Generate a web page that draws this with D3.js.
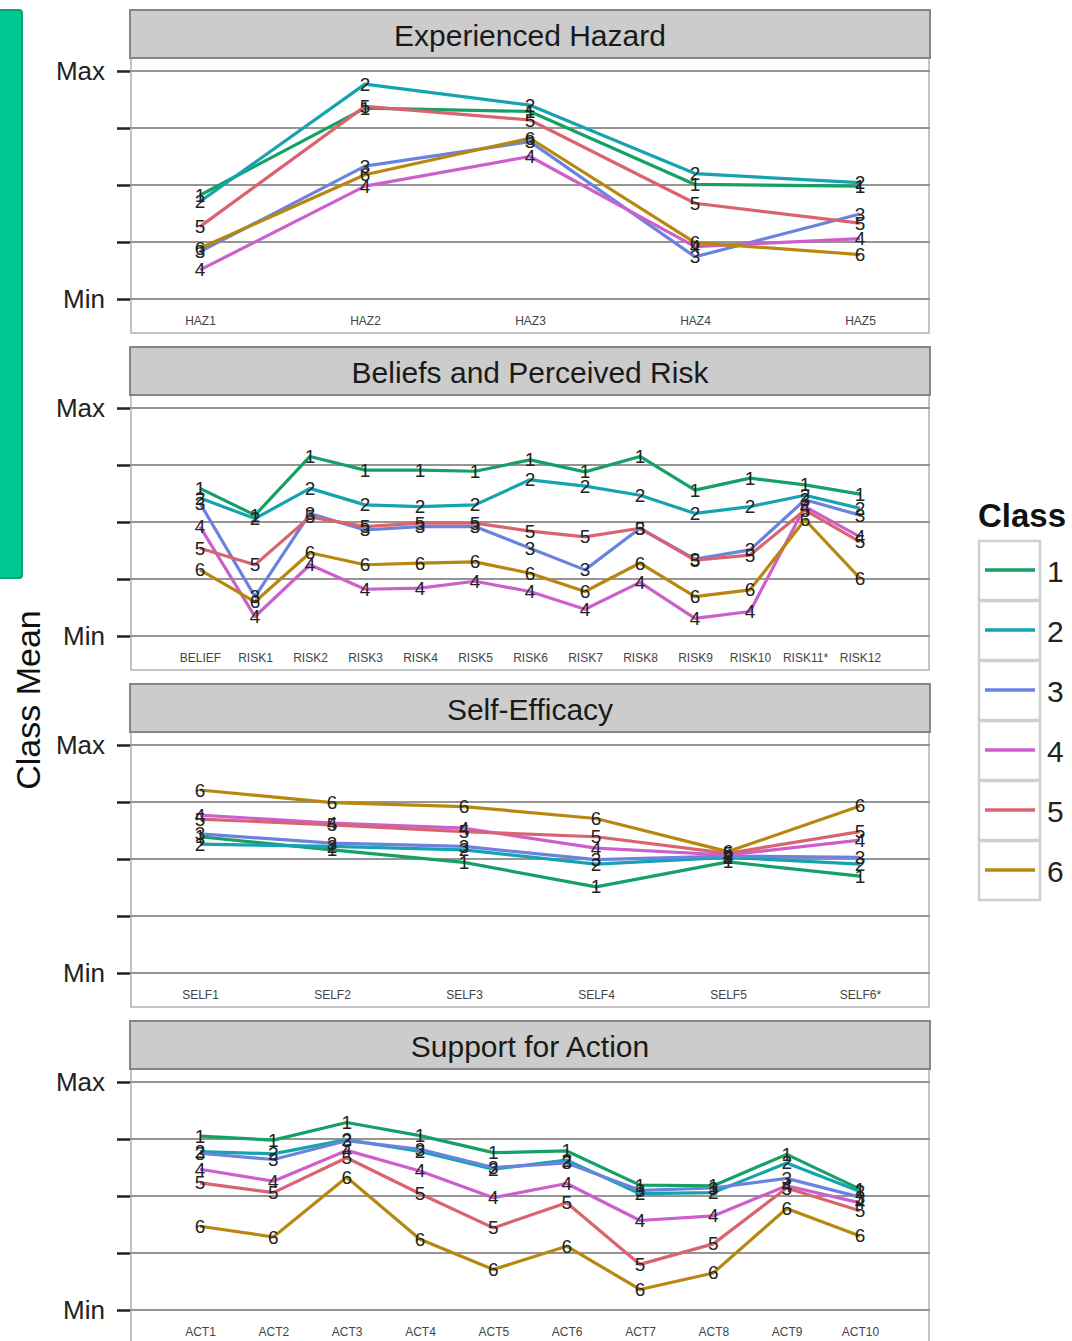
<!DOCTYPE html>
<html>
<head>
<meta charset="utf-8">
<script src="https://cdn.jsdelivr.net/npm/d3@7"></script>
<style>
  body { margin: 0; background: #fff; }
  svg { font-family: "Liberation Sans", Arial, sans-serif; display: block; }
</style>
</head>
<body>
<div id="dataviz"></div>
<script>
// classes and colours
const classes = ["1", "2", "3", "4", "5", "6"];
const classColors = ["#15a065", "#16a3b1", "#6a84de", "#cd5fcd", "#d9646f", "#b8870f"];

// y axis: 0 = Min, 4 = Max
const yTicks = [0, 1, 2, 3, 4];
const yTickLabels = ["Min", "", "", "", "Max"];

// panel 1
const hazItems = ["HAZ1", "HAZ2", "HAZ3", "HAZ4", "HAZ5"];
const hazMeans = [
  [1.82, 3.35, 3.29, 2.01, 1.98],
  [1.71, 3.77, 3.40, 2.20, 2.04],
  [0.83, 2.33, 2.76, 0.74, 1.49],
  [0.51, 1.98, 2.50, 0.92, 1.06],
  [1.27, 3.38, 3.14, 1.68, 1.33],
  [0.89, 2.18, 2.82, 0.99, 0.78],
];

// panel 2
const riskItems = ["BELIEF", "RISK1", "RISK2", "RISK3", "RISK4", "RISK5", "RISK6",
  "RISK7", "RISK8", "RISK9", "RISK10", "RISK11*", "RISK12"];
const riskMeans = [
  [2.59, 2.12, 3.15, 2.91, 2.91, 2.89, 3.09, 2.88, 3.15, 2.56, 2.77, 2.65, 2.49],
  [2.42, 2.06, 2.59, 2.30, 2.27, 2.30, 2.74, 2.63, 2.47, 2.15, 2.27, 2.47, 2.24],
  [2.33, 0.69, 2.15, 1.86, 1.92, 1.92, 1.54, 1.16, 1.89, 1.35, 1.51, 2.39, 2.12],
  [1.92, 0.34, 1.25, 0.82, 0.84, 0.96, 0.78, 0.47, 0.94, 0.31, 0.43, 2.27, 1.74],
  [1.54, 1.25, 2.09, 1.92, 1.98, 1.98, 1.84, 1.74, 1.89, 1.33, 1.42, 2.21, 1.65],
  [1.16, 0.60, 1.46, 1.25, 1.28, 1.30, 1.10, 0.78, 1.28, 0.69, 0.81, 2.04, 1.01],
];

// panel 3
const selfItems = ["SELF1", "SELF2", "SELF3", "SELF4", "SELF5", "SELF6*"];
const selfMeans = [
  [2.39, 2.16, 1.94, 1.51, 1.95, 1.70],
  [2.26, 2.22, 2.16, 1.91, 2.03, 1.91],
  [2.44, 2.28, 2.22, 1.99, 2.05, 2.03],
  [2.77, 2.63, 2.54, 2.19, 2.07, 2.33],
  [2.70, 2.60, 2.48, 2.39, 2.10, 2.48],
  [3.21, 2.99, 2.92, 2.71, 2.13, 2.93],
];

// panel 4
const actItems = ["ACT1", "ACT2", "ACT3", "ACT4", "ACT5", "ACT6", "ACT7", "ACT8", "ACT9", "ACT10"];
const actMeans = [
  [3.05, 2.98, 3.29, 3.06, 2.76, 2.79, 2.19, 2.18, 2.73, 2.12],
  [2.78, 2.74, 2.99, 2.78, 2.47, 2.63, 2.04, 2.06, 2.58, 2.08],
  [2.75, 2.64, 2.97, 2.82, 2.50, 2.58, 2.10, 2.14, 2.31, 1.98],
  [2.47, 2.26, 2.80, 2.44, 1.97, 2.22, 1.57, 1.65, 2.18, 1.88],
  [2.23, 2.06, 2.67, 2.04, 1.44, 1.88, 0.80, 1.16, 2.14, 1.74],
  [1.47, 1.28, 2.33, 1.24, 0.71, 1.12, 0.36, 0.65, 1.78, 1.30],
];

const panelTitles = ["Experienced Hazard", "Beliefs and Perceived Risk", "Self-Efficacy", "Support for Action"];
const panelItems = [hazItems, riskItems, selfItems, actItems];
const panelMeans = [hazMeans, riskMeans, selfMeans, actMeans];

const W = 1072, H = 1341;
const color = d3.scaleOrdinal().domain(classes).range(classColors);

const svg = d3.select("#dataviz").append("svg").attr("width", W).attr("height", H);

// green side bar
svg.append("rect")
  .attr("x", -6).attr("y", 10).attr("width", 28).attr("height", 568)
  .attr("rx", 3)
  .attr("fill", "#00c895").attr("stroke", "#07a37a").attr("stroke-width", 2);

const panelLeft = 130, panelRight = 930;
const stripH = 48, panelStep = 337;

panelTitles.forEach((title, p) => {
  const top = 10 + p * panelStep;
  const plotTop = top + stripH;
  const plotBottom = top + 323;
  const g = svg.append("g");

  const x = d3.scalePoint().domain(panelItems[p]).range([200, 860]);
  const y = d3.scaleLinear().domain([0, 4]).range([top + 289, top + 61]);

  // panel frame
  g.append("rect")
    .attr("x", panelLeft + 1).attr("y", plotTop)
    .attr("width", panelRight - panelLeft - 2).attr("height", plotBottom - plotTop)
    .attr("fill", "#fff").attr("stroke", "#b0b0b0").attr("stroke-width", 1.5);

  // grid lines
  g.append("g")
    .selectAll("line")
    .data(yTicks)
    .join("line")
    .attr("x1", panelLeft).attr("x2", panelRight)
    .attr("y1", (d) => y(d)).attr("y2", (d) => y(d))
    .attr("stroke", "#959595").attr("stroke-width", 2);

  // strip
  g.append("rect")
    .attr("x", panelLeft).attr("y", top)
    .attr("width", panelRight - panelLeft).attr("height", stripH)
    .attr("fill", "#cccccc").attr("stroke", "#858585").attr("stroke-width", 2);
  g.append("text")
    .attr("x", (panelLeft + panelRight) / 2).attr("y", top + stripH / 2 + 1)
    .attr("text-anchor", "middle").attr("dominant-baseline", "central")
    .style("font-size", "30px").attr("fill", "#1a1a1a")
    .text(title);

  // y axis
  const yAxis = g.append("g")
    .attr("transform", "translate(" + panelLeft + ",0)")
    .call(d3.axisLeft(y).tickValues(yTicks).tickSize(13).tickPadding(12)
      .tickFormat((d, i) => yTickLabels[i]));
  yAxis.select(".domain").remove();
  yAxis.selectAll(".tick line").attr("stroke", "#222").attr("stroke-width", 2.5);
  yAxis.selectAll(".tick text")
    .style("font-size", "26px").attr("fill", "#222")
    .style("font-family", "\"Liberation Sans\", Arial, sans-serif");

  // x axis labels
  const xAxis = g.append("g")
    .attr("transform", "translate(0," + (plotBottom - 17) + ")")
    .call(d3.axisBottom(x).tickSize(0).tickPadding(0));
  xAxis.select(".domain").remove();
  xAxis.selectAll(".tick text")
    .style("font-size", "12px").attr("fill", "#444")
    .style("font-family", "\"Liberation Sans\", Arial, sans-serif");

  // lines
  const line = d3.line()
    .x((d, i) => x(panelItems[p][i]))
    .y((d) => y(d));

  g.append("g")
    .selectAll("path")
    .data(panelMeans[p])
    .join("path")
    .attr("fill", "none")
    .attr("stroke", (d, i) => color(classes[i]))
    .attr("stroke-width", 3.2)
    .attr("stroke-linejoin", "round")
    .attr("d", line);

  // class number labels on each point
  panelMeans[p].forEach((vals, c) => {
    g.append("g")
      .selectAll("text")
      .data(vals)
      .join("text")
      .attr("x", (d, i) => x(panelItems[p][i]))
      .attr("y", (d) => y(d))
      .attr("text-anchor", "middle")
      .attr("dominant-baseline", "central")
      .style("font-size", "19px")
      .attr("fill", "#222")
      .text(classes[c]);
  });
});

// y title
svg.append("text")
  .attr("transform", "translate(28,700) rotate(-90)")
  .attr("text-anchor", "middle").attr("dominant-baseline", "central")
  .style("font-size", "34px").attr("fill", "#111")
  .text("Class Mean");

// legend
const legend = svg.append("g").attr("transform", "translate(978,540)");
legend.append("text")
  .attr("x", 0).attr("y", -13)
  .style("font-size", "33px").style("font-weight", "bold").attr("fill", "#111")
  .text("Class");

const keyH = 60;
const keys = legend.selectAll(".key")
  .data(classes)
  .join("g")
  .attr("class", "key")
  .attr("transform", (d, i) => "translate(0," + i * keyH + ")");
keys.append("rect")
  .attr("x", 1).attr("y", 1).attr("width", 61).attr("height", keyH - 1)
  .attr("fill", "#fff").attr("stroke", "#cfcfcf").attr("stroke-width", 2.5);
keys.append("line")
  .attr("x1", 7).attr("x2", 57)
  .attr("y1", keyH / 2).attr("y2", keyH / 2)
  .attr("stroke", (d) => color(d)).attr("stroke-width", 3.5);
keys.append("text")
  .attr("x", 69).attr("y", keyH / 2 + 1)
  .attr("dominant-baseline", "central")
  .style("font-size", "30px").attr("fill", "#222")
  .text((d) => d);
</script>
</body>
</html>
